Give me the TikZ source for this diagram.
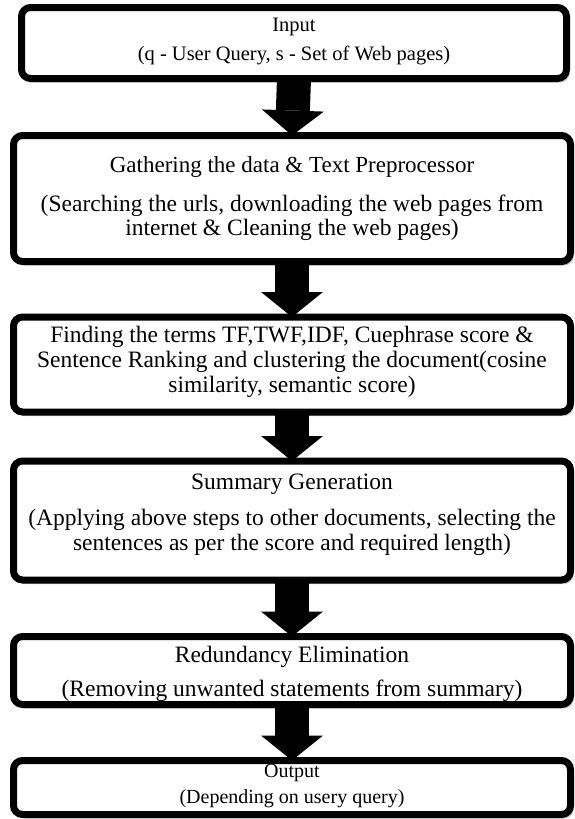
\documentclass[tikz,border=0pt]{standalone}
\usepackage{fontspec}
\setmainfont{Liberation Serif}
\usetikzlibrary{arrows.meta,shadows}
\begin{document}
\begin{tikzpicture}[x=1pt,y=-1pt,
  box/.style={draw=black, line width=7pt, rounded corners=9pt, fill=white,
    inner sep=0pt, outer sep=0pt,
    drop shadow={shadow xshift=3pt, shadow yshift=-4pt, fill=black, opacity=0.2}},
  txt/.style={anchor=base, inner sep=0pt, font=\fontsize{#1}{#1}\selectfont},
  bigarrow/.style={line width=34pt, -{Triangle[width=62pt,length=25pt,line width=0pt]}}]
\useasboundingbox (0,0) rectangle (575,819);
% boxes
\node[box, minimum width=545pt, minimum height=71pt] (b1) at (294,43) {};
\node[box, minimum width=557pt, minimum height=126pt] (b2) at (292,198.5) {};
\node[box, minimum width=557pt, minimum height=95pt] (b3) at (292,364.5) {};
\node[box, minimum width=557pt, minimum height=119pt] (b4) at (292,520.5) {};
\node[box, minimum width=557pt, minimum height=68pt] (b5) at (292,670.5) {};
\node[box, minimum width=557pt, minimum height=54pt] (b6) at (292,787.5) {};
% texts
\node[txt=20.5] (t1a) at (294,31) {Input};
\node[txt=20.5] (t1b) at (294,60) {(q - User Query, s - Set of Web pages)};
\node[txt=23] (t2a) at (292,172) {Gathering the data \& Text Preprocessor};
\node[txt=23.5] (t2b) at (292,211) {(Searching the urls, downloading the web pages from};
\node[txt=23.5] (t2c) at (292,235) {internet \& Cleaning the web pages)};
\node[txt=23.5] (t3a) at (292,342) {Finding the terms TF,TWF,IDF, Cuephrase score \&};
\node[txt=23.5] (t3b) at (292,367) {Sentence Ranking and clustering the document(cosine};
\node[txt=23.5] (t3c) at (292,392) {similarity, semantic score)};
\node[txt=23.5] (t4a) at (292,489) {Summary Generation};
\node[txt=23.5] (t4b) at (292,525) {(Applying above steps to other documents, selecting the};
\node[txt=23.5] (t4c) at (292,550) {sentences as per the score and required length)};
\node[txt=23.5] (t5a) at (292,662) {Redundancy Elimination};
\node[txt=23.5] (t5b) at (292,696) {(Removing unwanted statements from summary)};
\node[txt=20] (t6a) at (292,777) {Output};
\node[txt=20] (t6b) at (292,803) {(Depending on usery query)};
% arrows
\draw[bigarrow] (b1.south) -- (b2.north);
\draw[bigarrow] (b2.south) -- (b3.north);
\draw[bigarrow] (b3.south) -- (b4.north);
\draw[bigarrow] (b4.south) -- (b5.north);
\draw[bigarrow] (b5.south) -- (b6.north);
\end{tikzpicture}
\end{document}
